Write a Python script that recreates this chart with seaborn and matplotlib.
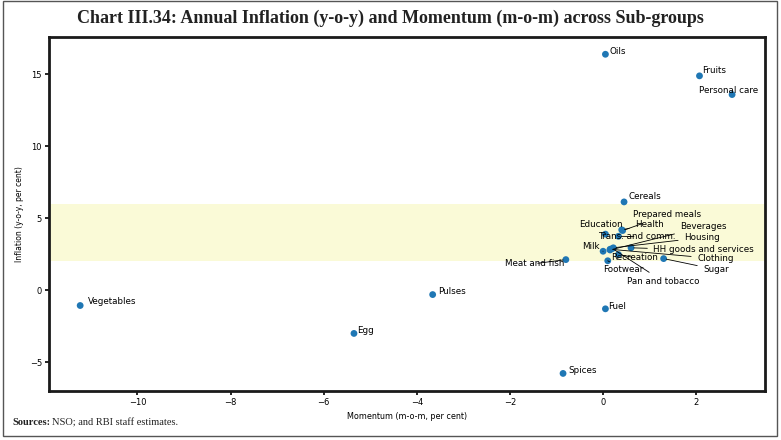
import matplotlib
matplotlib.use("Agg")
import matplotlib.pyplot as plt
import seaborn as sns
import pandas as pd
from matplotlib.patches import Rectangle

# sub-group data: momentum (m-o-m) and annual inflation (y-o-y), per cent
groups = ["Oils", "Fruits", "Personal care", "Cereals", "Prepared meals",
          "Education", "Health", "Beverages", "Trans. and comm.", "Housing",
          "Milk", "HH goods and services", "Recreation", "Clothing",
          "Meat and fish", "Footwear", "Sugar", "Pan and tobacco", "Fuel",
          "Pulses", "Vegetables", "Egg", "Spices"]
momentum = [0.05, 2.07, 2.77, 0.45, 0.42,
            0.05, 0.40, 0.15, 0.33, 0.22,
            0.00, 0.60, 0.33, 0.15,
            -0.80, 0.10, 1.30, 0.20, 0.05,
            -3.66, -11.23, -5.35, -0.86]
inflation = [16.4, 14.9, 13.6, 6.14, 4.15,
             3.90, 4.20, 2.80, 3.75, 2.95,
             2.71, 2.95, 2.48, 2.85,
             2.13, 2.05, 2.20, 2.90, -1.29,
             -0.30, -1.06, -3.00, -5.78]

# where each label sits (data coords) and whether a leader line is drawn
label_pos = {
    "Oils": (0.13, 16.6, False), "Fruits": (2.13, 15.25, False),
    "Personal care": (2.06, 13.9, False), "Cereals": (0.54, 6.5, False),
    "Prepared meals": (0.65, 5.25, True), "Education": (-0.52, 4.56, True),
    "Health": (0.69, 4.56, True), "Beverages": (1.66, 4.42, True),
    "Trans. and comm.": (-0.11, 3.73, True), "Housing": (1.74, 3.66, True),
    "Milk": (-0.45, 3.03, True), "HH goods and services": (1.08, 2.8, True),
    "Recreation": (0.17, 2.27, True), "Clothing": (2.02, 2.2, True),
    "Meat and fish": (-2.1, 1.85, True), "Footwear": (0.0, 1.44, True),
    "Sugar": (2.15, 1.44, True), "Pan and tobacco": (0.52, 0.6, True),
    "Fuel": (0.11, -1.15, False), "Pulses": (-3.55, -0.1, False),
    "Vegetables": (-11.07, -0.8, False), "Egg": (-5.29, -2.8, False),
    "Spices": (-0.75, -5.57, False),
}

df = pd.DataFrame({"group": groups, "mom": momentum, "yoy": inflation})

sns.set_style("white")
plt.rcParams["text.color"] = "black"
plt.rcParams["xtick.color"] = "black"
plt.rcParams["ytick.color"] = "black"
plt.rcParams["axes.labelcolor"] = "black"

fig = plt.figure(figsize=(7.81, 4.4), dpi=100)
ax = fig.add_axes([0.0627, 0.1114, 0.917, 0.8045])

ax.axhspan(2, 6, color="#fafad7", zorder=0, lw=0)
sns.scatterplot(data=df, x="mom", y="yoy", ax=ax, color="#1f77b4", s=24,
                edgecolor="none", zorder=3)

for name, xv, yv in zip(groups, momentum, inflation):
    tx, ty, line = label_pos[name]
    props = dict(arrowstyle="-", color="black", lw=0.6) if line else None
    ax.annotate(name, xy=(xv, yv), xytext=(tx, ty), fontsize=6.3,
                ha="left", va="center", arrowprops=props, zorder=4)

ax.set_xlim(-11.9, 3.48)
ax.set_ylim(-7.0, 17.6)
ax.set_xticks([-10, -8, -6, -4, -2, 0, 2])
ax.set_yticks([-5, 0, 5, 10, 15])
ax.tick_params(axis="both", labelsize=6, length=3, width=1.2,
               direction="out", bottom=True, left=True, pad=2)
ax.set_xlabel("Momentum (m-o-m, per cent)", fontsize=5.8)
ax.set_ylabel("Inflation (y-o-y, per cent)", fontsize=5.5)
for sp in ax.spines.values():
    sp.set_linewidth(2)
    sp.set_color("#1a1a1a")

fig.text(0.5, 0.958, "Chart III.34: Annual Inflation (y-o-y) and Momentum (m-o-m) across Sub-groups",
         ha="center", va="center", fontsize=13, fontweight="bold",
         family="Liberation Serif", color="#222222")
fig.text(0.016, 0.039, "Sources:", ha="left", va="center", fontsize=7.5,
         fontweight="bold", family="Liberation Serif", color="#222222")
fig.text(0.066, 0.039, "NSO; and RBI staff estimates.", ha="left", va="center",
         fontsize=7.5, family="Liberation Serif", color="#222222")

fig.patches.append(Rectangle((0.004, 0.009), 0.991, 0.989, transform=fig.transFigure,
                             fill=False, edgecolor="#555555", lw=1))

fig.savefig("out.png", dpi=100)
